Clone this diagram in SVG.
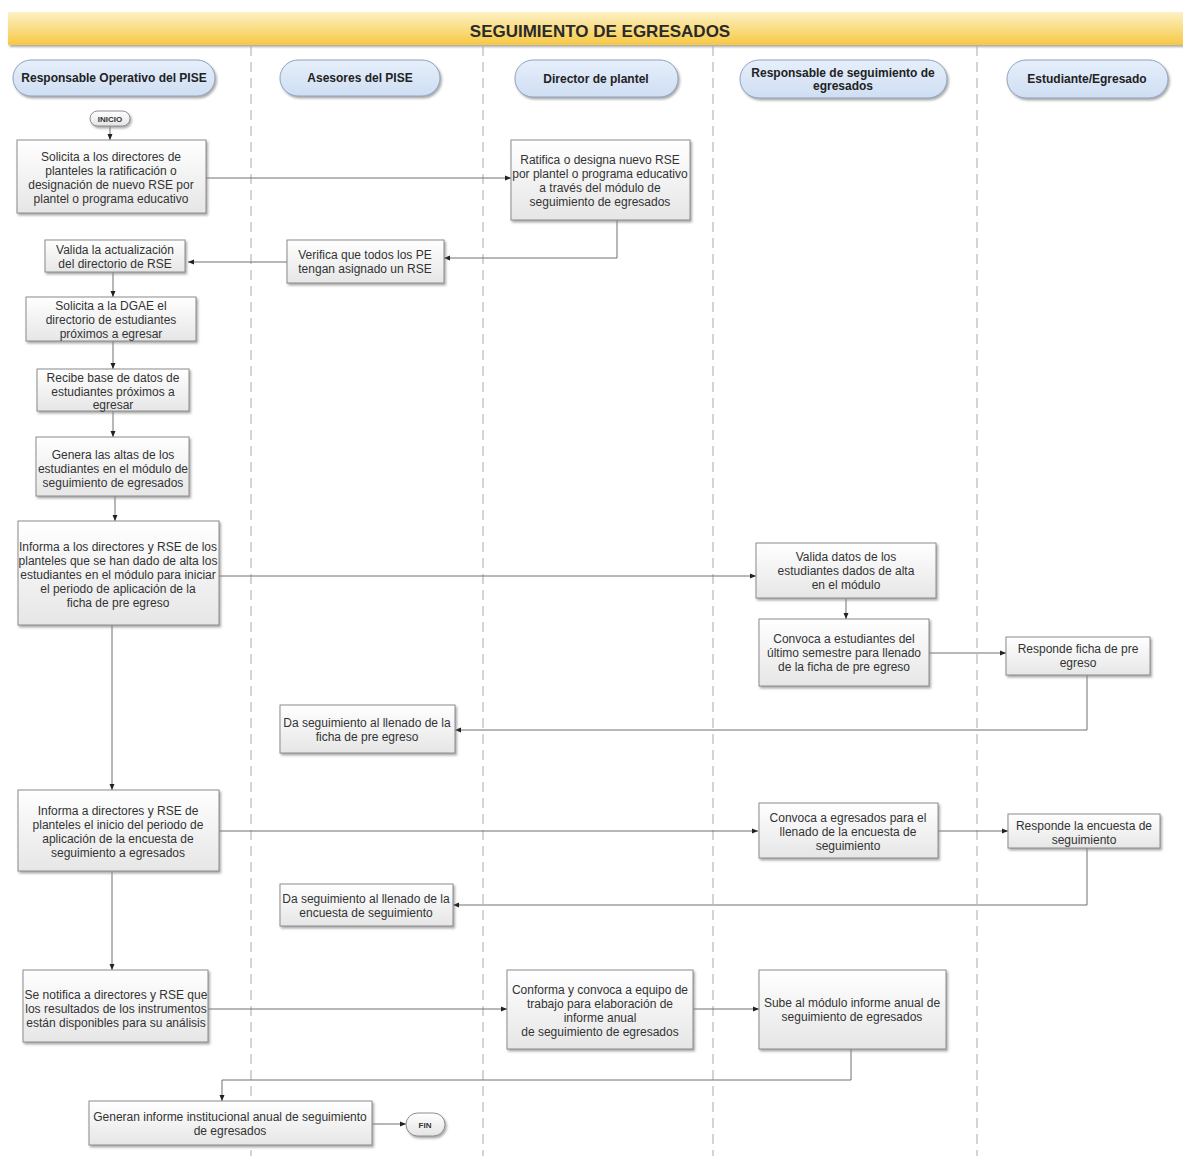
<svg xmlns="http://www.w3.org/2000/svg" width="1183" height="1156" viewBox="0 0 1183 1156">
<defs>
<linearGradient id="gBanner" x1="0" y1="0" x2="0" y2="1"><stop offset="0" stop-color="#fdf1c4"/><stop offset="1" stop-color="#f6c844"/></linearGradient>
<linearGradient id="gBox" x1="0" y1="0" x2="0" y2="1"><stop offset="0" stop-color="#ffffff"/><stop offset="1" stop-color="#e6e6e6"/></linearGradient>
<linearGradient id="gPill" x1="0" y1="0" x2="0" y2="1"><stop offset="0" stop-color="#e6effb"/><stop offset="1" stop-color="#cfdef3"/></linearGradient>
<linearGradient id="gTerm" x1="0" y1="0" x2="0" y2="1"><stop offset="0" stop-color="#ffffff"/><stop offset="1" stop-color="#e4e4e4"/></linearGradient>
<filter id="sh" x="-10%" y="-10%" width="130%" height="140%"><feDropShadow dx="1.5" dy="2" stdDeviation="1.2" flood-color="#888" flood-opacity="0.7"/></filter>
<marker id="ah" viewBox="0 0 6 6" refX="6" refY="3" markerWidth="6" markerHeight="6" markerUnits="userSpaceOnUse" orient="auto"><path d="M0,0.5 L6,3 L0,5.5 Z" fill="#222"/></marker>
<style>
.box{fill:url(#gBox);stroke:#8c8c8c;stroke-width:1;filter:url(#sh)}
.pill{fill:url(#gPill);stroke:#8fa3be;stroke-width:1;filter:url(#sh)}
.term{fill:url(#gTerm);stroke:#8c8c8c;stroke-width:1;filter:url(#sh)}
.t{font-family:"Liberation Sans",Arial,sans-serif;font-size:12px;fill:#333;text-anchor:middle}
.h{font-family:"Liberation Sans",Arial,sans-serif;font-size:12px;font-weight:bold;fill:#222;text-anchor:middle}
.s{font-family:"Liberation Sans",Arial,sans-serif;font-size:8px;font-weight:bold;fill:#333;text-anchor:middle}
.c{fill:none;stroke:#707070;stroke-width:1;marker-end:url(#ah)}
.lane{stroke:#a8a8a8;stroke-width:1;stroke-dasharray:10 6}
</style>
</defs>
<rect width="1183" height="1156" fill="#ffffff"/>
<g id="banner">
<rect x="8" y="12" width="1175" height="33" fill="url(#gBanner)" filter="url(#sh)"/>
<text x="600" y="37" font-family="'Liberation Sans',Arial,sans-serif" font-size="17" font-weight="bold" fill="#2a2a2a" text-anchor="middle">SEGUIMIENTO DE EGRESADOS</text>
</g>
<g id="lanes">
<line class="lane" x1="251" y1="46" x2="251" y2="1156"/>
<line class="lane" x1="483" y1="46" x2="483" y2="1156"/>
<line class="lane" x1="713" y1="46" x2="713" y2="1156"/>
<line class="lane" x1="977" y1="46" x2="977" y2="1156"/>
</g>
<g id="lane-headers">
<g id="h1"><rect class="pill" x="13" y="60" width="202" height="36" rx="18"/><text class="h" x="114" y="82">Responsable Operativo del PISE</text></g>
<g id="h2"><rect class="pill" x="280" y="60" width="160" height="36" rx="18"/><text class="h" x="360" y="82">Asesores del PISE</text></g>
<g id="h3"><rect class="pill" x="515" y="60" width="163" height="37" rx="18"/><text class="h" x="596" y="83">Director de plantel</text></g>
<g id="h4"><rect class="pill" x="740" y="60" width="207" height="38" rx="19"/><text class="h" x="843" y="77">Responsable de seguimiento de</text><text class="h" x="843" y="90">egresados</text></g>
<g id="h5"><rect class="pill" x="1007" y="60" width="161" height="38" rx="19"/><text class="h" x="1087" y="83">Estudiante/Egresado</text></g>
</g>
<g id="connectors">
<path class="c" d="M110,126 V140"/>
<path class="c" d="M206,178 H511"/>
<path class="c" d="M617,220 V258 H444"/>
<path class="c" d="M287,262 H188"/>
<path class="c" d="M113,272 V297"/>
<path class="c" d="M113,341 V369"/>
<path class="c" d="M113,411 V437"/>
<path class="c" d="M115,496 V521"/>
<path class="c" d="M219,576 H756"/>
<path class="c" d="M846,598 V619"/>
<path class="c" d="M929,653 H1006"/>
<path class="c" d="M1087,675 V730 H455"/>
<path class="c" d="M112,625 V790"/>
<path class="c" d="M219,831 H758"/>
<path class="c" d="M938,831 H1008"/>
<path class="c" d="M1087,848 V905 H453"/>
<path class="c" d="M112,871 V970"/>
<path class="c" d="M208,1009 H507"/>
<path class="c" d="M693,1009 H759"/>
<path class="c" d="M851,1049 V1080 H222 V1101"/>
<path class="c" d="M372,1124 H406"/>
</g>
<g id="inicio"><rect class="term" x="90" y="111" width="40" height="15" rx="7.5"/><text class="s" x="110" y="121.5">INICIO</text></g>
<g id="n1"><rect class="box" x="17" y="140" width="189" height="73"/>
<text class="t" x="111" y="161">Solicita a los directores de</text><text class="t" x="111" y="175">planteles la ratificación o</text><text class="t" x="111" y="189">designación de nuevo RSE por</text><text class="t" x="111" y="203">plantel o programa educativo</text></g>
<g id="n2"><rect class="box" x="511" y="140" width="179" height="80"/>
<text class="t" x="600" y="164">Ratifica o designa nuevo RSE</text><text class="t" x="600" y="178">por plantel o programa educativo</text><text class="t" x="600" y="192">a través del módulo de</text><text class="t" x="600" y="206">seguimiento de egresados</text></g>
<g id="n3"><rect class="box" x="287" y="240" width="157" height="43"/>
<text class="t" x="365" y="259">Verifica que todos los PE</text><text class="t" x="365" y="273">tengan asignado un RSE</text></g>
<g id="n4"><rect class="box" x="45" y="240" width="140" height="32"/>
<text class="t" x="115" y="254">Valida la actualización</text><text class="t" x="115" y="268">del directorio de RSE</text></g>
<g id="n5"><rect class="box" x="26" y="297" width="170" height="44"/>
<text class="t" x="111" y="310">Solicita a la DGAE el</text><text class="t" x="111" y="324">directorio de estudiantes</text><text class="t" x="111" y="338">próximos a egresar</text></g>
<g id="n6"><rect class="box" x="37" y="369" width="152" height="42"/>
<text class="t" x="113" y="382">Recibe base de datos de</text><text class="t" x="113" y="396">estudiantes próximos a</text><text class="t" x="113" y="409">egresar</text></g>
<g id="n7"><rect class="box" x="36" y="437" width="153" height="59"/>
<text class="t" x="113" y="459">Genera las altas de los</text><text class="t" x="113" y="473">estudiantes en el módulo de</text><text class="t" x="113" y="487">seguimiento de egresados</text></g>
<g id="n8"><rect class="box" x="18" y="521" width="201" height="104"/>
<text class="t" x="118" y="551">Informa a los directores y RSE de los</text><text class="t" x="118" y="565">planteles que se han dado de alta los</text><text class="t" x="118" y="579">estudiantes en el módulo para iniciar</text><text class="t" x="118" y="593">el periodo de aplicación de la</text><text class="t" x="118" y="607">ficha de pre egreso</text></g>
<g id="n9"><rect class="box" x="756" y="543" width="180" height="55"/>
<text class="t" x="846" y="561">Valida datos de los</text><text class="t" x="846" y="575">estudiantes dados de alta</text><text class="t" x="846" y="589">en el módulo</text></g>
<g id="n10"><rect class="box" x="759" y="619" width="170" height="67"/>
<text class="t" x="844" y="643">Convoca a estudiantes del</text><text class="t" x="844" y="657">último semestre para llenado</text><text class="t" x="844" y="671">de la ficha de pre egreso</text></g>
<g id="n11"><rect class="box" x="1006" y="637" width="144" height="38"/>
<text class="t" x="1078" y="653">Responde ficha de pre</text><text class="t" x="1078" y="667">egreso</text></g>
<g id="n12"><rect class="box" x="280" y="705" width="175" height="48"/>
<text class="t" x="367" y="727">Da seguimiento al llenado de la</text><text class="t" x="367" y="741">ficha de pre egreso</text></g>
<g id="n13"><rect class="box" x="18" y="790" width="201" height="81"/>
<text class="t" x="118" y="815">Informa a directores y RSE de</text><text class="t" x="118" y="829">planteles el inicio del periodo de</text><text class="t" x="118" y="843">aplicación de la encuesta de</text><text class="t" x="118" y="857">seguimiento a egresados</text></g>
<g id="n14"><rect class="box" x="759" y="803" width="179" height="55"/>
<text class="t" x="848" y="822">Convoca a egresados para el</text><text class="t" x="848" y="836">llenado de la encuesta de</text><text class="t" x="848" y="850">seguimiento</text></g>
<g id="n15"><rect class="box" x="1008" y="814" width="152" height="34"/>
<text class="t" x="1084" y="830">Responde la encuesta de</text><text class="t" x="1084" y="844">seguimiento</text></g>
<g id="n16"><rect class="box" x="280" y="884" width="173" height="42"/>
<text class="t" x="366" y="903">Da seguimiento al llenado de la</text><text class="t" x="366" y="917">encuesta de seguimiento</text></g>
<g id="n17"><rect class="box" x="23" y="970" width="185" height="72"/>
<text class="t" x="116" y="999">Se notifica a directores y RSE que</text><text class="t" x="116" y="1013">los resultados de los instrumentos</text><text class="t" x="116" y="1027">están disponibles para su análisis</text></g>
<g id="n18"><rect class="box" x="507" y="970" width="186" height="79"/>
<text class="t" x="600" y="994">Conforma y convoca a equipo de</text><text class="t" x="600" y="1008">trabajo para elaboración de</text><text class="t" x="600" y="1022">informe anual</text><text class="t" x="600" y="1036">de seguimiento de egresados</text></g>
<g id="n19"><rect class="box" x="759" y="970" width="187" height="79"/>
<text class="t" x="852" y="1007">Sube al módulo informe anual de</text><text class="t" x="852" y="1021">seguimiento de egresados</text></g>
<g id="n20"><rect class="box" x="89" y="1101" width="283" height="44"/>
<text class="t" x="230" y="1121">Generan informe institucional anual de seguimiento</text><text class="t" x="230" y="1135">de egresados</text></g>
<g id="fin"><rect class="term" x="406" y="1113" width="39" height="23" rx="11.5"/><text class="s" x="425" y="1127.5">FIN</text></g>
</svg>
